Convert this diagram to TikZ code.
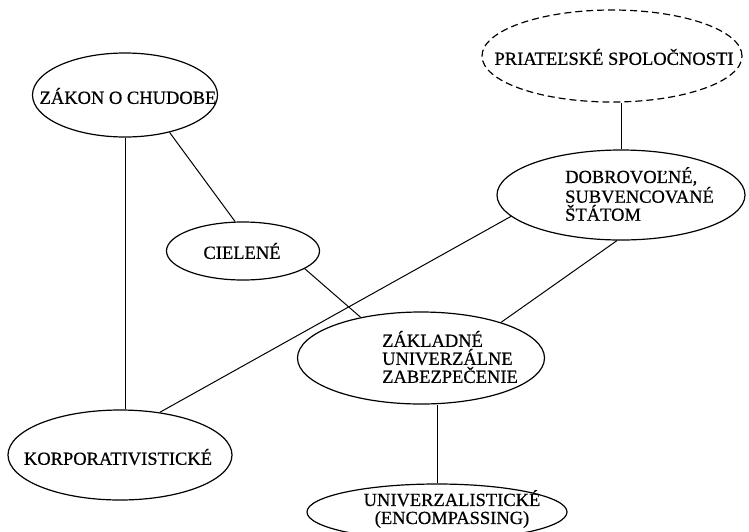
\documentclass[tikz,border=0pt]{standalone}
\usepackage{fontspec}
\setmainfont{Liberation Serif}
\newfontfamily\heavyserif{Liberation Serif}[FakeBold=0.6]
\usetikzlibrary{shapes.geometric}
\begin{document}
\begin{tikzpicture}[x=1pt,y=-1pt,
  oval/.style={draw, ellipse, inner sep=0pt, line width=1.2pt},
  lbl/.style={inner sep=0pt, font=\heavyserif\fontsize{18.5}{18}\selectfont},
  link/.style={line width=1pt}]
\clip (0,0) rectangle (749,531);
\fill[white] (0,0) rectangle (749,531);
% ellipses
\node[oval, minimum width=185pt, minimum height=84pt] (zakon) at (125,95) {};
\node[oval, dashed, dash pattern=on 7pt off 4pt, minimum width=260pt, minimum height=92pt] (priat) at (612,56) {};
\node[oval, minimum width=248pt, minimum height=90pt] (dob) at (621,195) {};
\node[oval, minimum width=153pt, minimum height=58pt] (ciel) at (243,251) {};
\node[oval, minimum width=247pt, minimum height=92pt] (zak) at (421,358) {};
\node[oval, minimum width=224pt, minimum height=90pt] (korp) at (120,455) {};
\node[oval, minimum width=260pt, minimum height=56pt] (uni) at (437,512) {};
% texts
\node[lbl] (zakont) at (128,96) {ZÁKON O CHUDOBE};
\node[lbl] (priatt) at (614,57) {PRIATEĽSKÉ SPOLOČNOSTI};
\node[lbl, anchor=west, align=left] (dobt) at (565,194) {DOBROVOĽNÉ,\\SUBVENCOVANÉ\\ŠTÁTOM};
\node[lbl] (cielt) at (242,251) {CIELENÉ};
\node[lbl, anchor=west, align=left] (zakt) at (382,357) {ZÁKLADNÉ\\UNIVERZÁLNE\\ZABEZPEČENIE};
\node[lbl] (korpt) at (118,457) {KORPORATIVISTICKÉ};
\node[lbl, align=center] (unit) at (452,509) {UNIVERZALISTICKÉ\\(ENCOMPASSING)};
% connectors
\draw[link] (zakon.south) -- (zakon.south |- korp.north);
\draw[link] (zakon.-40.8) -- (ciel.105);
\draw[link] (ciel.-16.7) -- (zak.146.7);
\draw[link] (dob.191) -- (korp.47.1);
\draw[link] (dob.-95.2) -- (zak.24.3);
\draw[link] (dob.north) -- (dob.north |- priat.south);
\draw[link] (uni.north) -- (uni.north |- zak.south);
\end{tikzpicture}
\end{document}
